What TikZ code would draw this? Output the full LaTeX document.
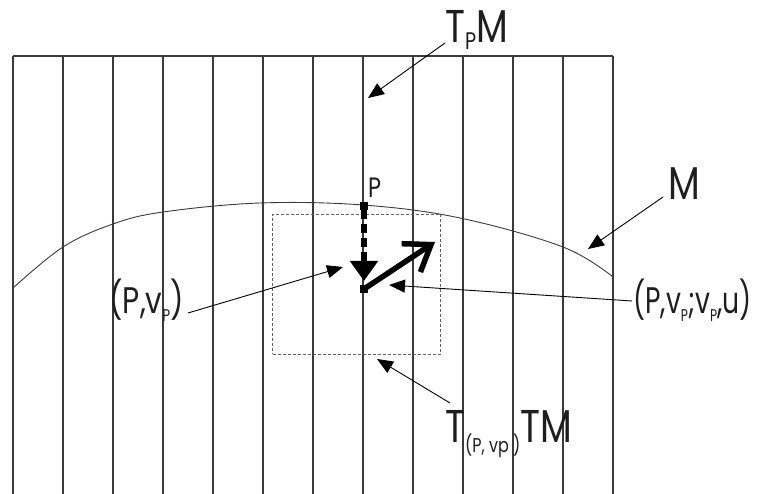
\documentclass[tikz,border=0pt]{standalone}
\usepackage{fontspec}
\setmainfont{Poppins}
\usetikzlibrary{arrows.meta}
\definecolor{ln}{HTML}{3A3A3A}
\definecolor{tx}{HTML}{1E1E1E}
\newcommand{\lsub}[3]{\raisebox{-#1pt}{\fontsize{#2}{#2}\selectfont #3}}
\newcommand{\hsq}[1]{\scalebox{0.8}[1]{#1}}
\newcommand{\hsn}[1]{\scalebox{0.72}[1]{#1}}
\begin{document}
\begin{tikzpicture}[x=1pt,y=-1pt,
  frame/.style={draw=ln,line width=1.3pt},
  curveln/.style={draw=ln,line width=0.9pt},
  dbox/.style={draw=ln!80,line width=0.9pt,dash pattern=on 3pt off 2pt,inner sep=0pt},
  sq/.style={fill=black,minimum size=8pt,inner sep=0pt},
  lab/.style={text=tx,inner sep=0pt},
  conn/.style={draw=black,line width=0.9pt,-{Triangle[length=16pt,width=13pt]}},
  vecd/.style={draw=black,line width=5.5pt,dash pattern=on 9pt off 5pt,-{Triangle[length=20pt,width=27pt]}},
  vecs/.style={draw=black,line width=5.5pt,-{Straight Barb[length=24pt,width=34pt,line width=5.5pt]}}
]
\useasboundingbox (0,0) rectangle (763,494);
% tangent space lines
\foreach \i in {0,...,12}{\draw[frame] (13+50*\i,56) -- (13+50*\i,494);}
\draw[frame] (13,56) -- (613,56);
% manifold curve
\draw[curveln] plot[smooth,tension=0.6] coordinates {(13,288) (63,247) (113,224) (163,212) (260,203) (363,205) (460,218) (563,247) (613,277)};
% dashed box
\node[dbox,minimum width=168pt,minimum height=140pt] (box) at (356.7,284) {};
% points
\node[sq] (P) at (364,206) {};
\node[sq] (Q) at (364,289) {};
\coordinate (u) at (435,242);
\draw[vecd] (P.south) -- (364,281);
\draw[vecs] (Q.center) -- (u);
% labels
\node[lab,anchor=base west] (Plab) at (368,198) {\fontsize{28}{28}\selectfont\hsq{P}};
\node[lab,anchor=base west] (tpm) at (445,43) {\fontsize{46}{46}\selectfont\hsq{T\lsub{7}{24}{P}M}};
\node[lab,anchor=base west] (mlab) at (668,200) {\fontsize{46}{46}\selectfont\hsq{M}};
\node[lab,anchor=base east] (pv) at (184,313) {\fontsize{37}{37}\selectfont\hsq{(P,v\lsub{9}{17}{P})}};
\node[lab,anchor=base west] (pvu) at (633,313) {\fontsize{37}{37}\selectfont\hsn{(P,v\lsub{9}{17}{P};v\lsub{9}{17}{P},u)}};
\node[lab,anchor=base west] (ttm) at (445,442) {\fontsize{46}{46}\selectfont\hsq{T\lsub{10}{20}{(P, vp )}TM}};
% connectors
\coordinate (a1) at (445,43);  \coordinate (b1) at (368,98);
\coordinate (a2) at (663,197); \coordinate (b2) at (588,249);
\coordinate (a3) at (188,313); \coordinate (b3) at (343,267);
\coordinate (a4) at (632,301); \coordinate (b4) at (389,285);
\coordinate (a5) at (450,403); \coordinate (b5) at (377,359);
\draw[conn] (a1) -- (b1);
\draw[conn] (a2) -- (b2);
\draw[conn] (a3) -- (b3);
\draw[conn] (a4) -- (b4);
\draw[conn] (a5) -- (b5);
\end{tikzpicture}
\end{document}
